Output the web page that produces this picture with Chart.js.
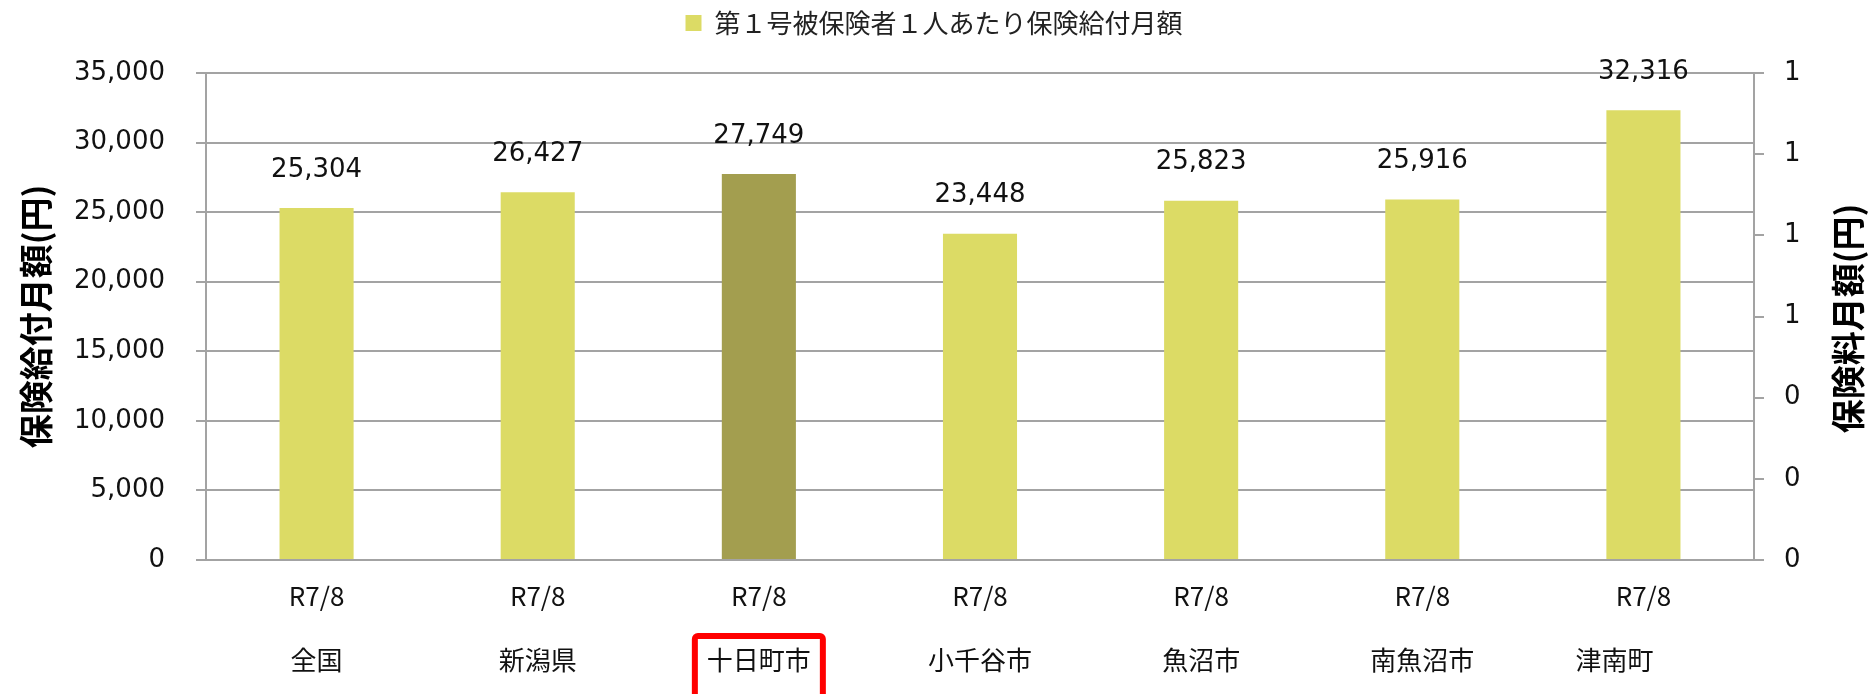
<!DOCTYPE html>
<html>
<head>
<meta charset="utf-8">
<script src="https://cdn.jsdelivr.net/npm/chart.js@4.4.1/dist/chart.umd.min.js"></script>
<style>
  html, body { margin: 0; padding: 0; background: #fff; }
  #wrap { width: 1868px; height: 694px; }
</style>
</head>
<body>
<div id="wrap"><canvas id="chart" width="1868" height="694"></canvas></div>
<script>
// Data
const periods = ['R7/8', 'R7/8', 'R7/8', 'R7/8', 'R7/8', 'R7/8', 'R7/8'];
const areas = ['全国', '新潟県', '十日町市', '小千谷市', '魚沼市', '南魚沼市', '津南町　　 '];
const benefitPerPerson = [25304, 26427, 27749, 23448, 25823, 25916, 32316];
const leftTicks = { min: 0, max: 35000, step: 5000 };
const rightTicks = { min: 0, max: 1.2, step: 0.2 };
const seriesName = '第１号被保険者１人あたり保険給付月額';
const leftTitle = '保険給付月額(円)';
const rightTitle = '保険料月額(円)';
const highlightIndex = 2;

// Colours
const barColor = '#dcdb65';
const highlightColor = '#a39e4f';
const gridColor = '#a3a3a3';
const textColor = '#111111';
const numFont = "'DejaVu Sans', Verdana, sans-serif";
const jpFont = "'Noto Sans CJK JP', sans-serif";

Chart.defaults.font.family = jpFont;
Chart.defaults.color = textColor;

const labels = periods.map((p, i) => [p, areas[i]]);

// empty box under the legend so the plot starts lower
const spacerPlugin = {
  id: 'spacer',
  beforeInit(chart) {
    Chart.layouts.addBox(chart, {
      position: 'top',
      weight: 0,
      fullSize: true,
      options: { stack: undefined, stackWeight: 1 },
      width: 0,
      height: 0,
      left: 0, top: 0, right: 0, bottom: 0,
      isHorizontal() { return true; },
      update(maxWidth) { this.width = maxWidth; this.height = 27; },
      draw() {}
    });
  }
};

// value labels above bars
const valueLabels = {
  id: 'valueLabels',
  afterDatasetsDraw(chart) {
    const ctx = chart.ctx;
    const meta = chart.getDatasetMeta(0);
    ctx.save();
    ctx.font = '26px ' + numFont;
    ctx.fillStyle = textColor;
    ctx.textAlign = 'center';
    ctx.textBaseline = 'middle';
    meta.data.forEach((bar, i) => {
      const v = chart.data.datasets[0].data[i];
      ctx.fillText(v.toLocaleString('en-US'), bar.x, bar.y - 38);
    });
    ctx.restore();
  }
};

// right axis title (reads bottom to top) + red box around the highlighted area
const extras = {
  id: 'extras',
  afterDraw(chart) {
    const ctx = chart.ctx;
    const area = chart.chartArea;
    ctx.save();
    ctx.font = 'bold 34px ' + jpFont;
    ctx.fillStyle = '#000';
    ctx.textAlign = 'center';
    ctx.textBaseline = 'middle';
    ctx.translate(1848, (area.top + area.bottom) / 2 + 2);
    ctx.rotate(-Math.PI / 2);
    ctx.fillText(rightTitle, 0, 0);
    ctx.restore();

    const x = chart.scales.x;
    const cx = x.getPixelForValue(highlightIndex);
    const cy = x.top + 4 + 64 * 1.5;
    ctx.save();
    ctx.strokeStyle = '#ff0000';
    ctx.lineWidth = 6;
    ctx.beginPath();
    ctx.roundRect(cx - 64, cy - 24, 128, 80, 3);
    ctx.stroke();
    ctx.restore();
  }
};

new Chart(document.getElementById('chart'), {
  type: 'bar',
  data: {
    labels: labels,
    datasets: [{
      label: seriesName,
      data: benefitPerPerson,
      yAxisID: 'y',
      backgroundColor: (c) => c.dataIndex === highlightIndex ? highlightColor : barColor,
      borderWidth: 0,
      categoryPercentage: 1,
      barPercentage: 0.335
    }]
  },
  options: {
    responsive: false,
    animation: false,
    layout: { padding: 0 },
    plugins: {
      legend: {
        position: 'top',
        labels: {
          boxWidth: 16,
          boxHeight: 16,
          padding: 10,
          color: '#222',
          font: { size: 26 }
        }
      },
      tooltip: { enabled: false }
    },
    scales: {
      x: {
        grid: { display: false, drawTicks: false },
        border: { display: true, color: gridColor, width: 2 },
        ticks: {
          padding: 4,
          color: textColor,
          maxRotation: 0,
          autoSkip: false,
          font: { size: 26, lineHeight: '64px' }
        },
        afterFit(s) { s.height = 134; }
      },
      y: {
        position: 'left',
        min: leftTicks.min,
        max: leftTicks.max,
        grid: { color: gridColor, lineWidth: 2, tickLength: 10 },
        border: { display: true, color: gridColor, width: 2 },
        ticks: {
          stepSize: leftTicks.step,
          padding: 31,
          color: textColor,
          font: { family: numFont, size: 26 },
          callback: (v) => v.toLocaleString('en-US')
        },
        title: {
          display: true,
          text: leftTitle,
          color: '#000',
          font: { size: 34, weight: 'bold' },
          padding: { top: 16, bottom: 0 }
        },
        afterFit(s) { s.width = 206; }
      },
      y1: {
        position: 'right',
        min: rightTicks.min,
        max: rightTicks.max,
        grid: { drawOnChartArea: false, color: gridColor, lineWidth: 2, tickLength: 10 },
        border: { display: true, color: gridColor, width: 2 },
        ticks: {
          stepSize: rightTicks.step,
          padding: 20,
          color: textColor,
          font: { family: numFont, size: 26 },
          callback: (v) => Math.round(v)
        },
        afterFit(s) { s.width = 114; }
      }
    }
  },
  plugins: [spacerPlugin, valueLabels, extras]
});
</script>
</body>
</html>
